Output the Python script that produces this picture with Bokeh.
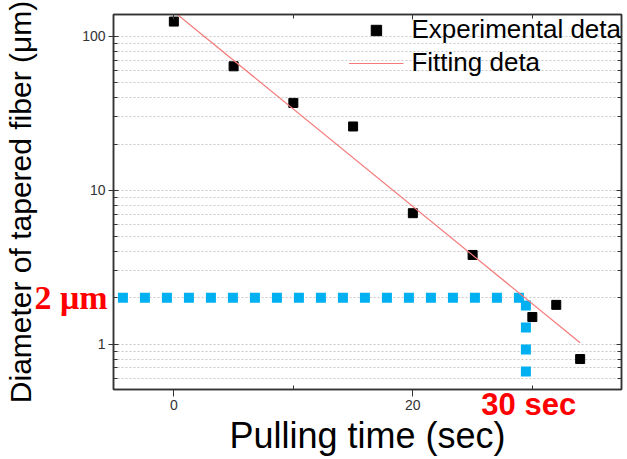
from bokeh.plotting import figure
from bokeh.models import (FixedTicker, LinearAxis, LogAxis,
                          PrintfTickFormatter, CustomJSTickFormatter)
from bokeh.embed import file_html
from bokeh.resources import INLINE

# ---- data ----
time_s = [0, 5, 10, 15, 20, 25, 30, 32, 34]
diameter_um = [125, 64, 37, 26, 7.1, 3.8, 1.5, 1.8, 0.80]

fit_time_s = [0, 34]
fit_diameter_um = [145, 1.02]

# blue guide lines marking 2 um at ~30 sec
guide_h_time = [-4.68, 29.5]
guide_h_diam = [2, 2]
guide_v_time = [29.46, 29.46]
guide_v_diam = [1.92, 0.605]

# callout positions (axis coordinates of the red texts)
callout_diam = [2]
callout_time = [29.7]

x_major_ticks = [0, 20]
x_minor_ticks = [10, 30]
y_major_ticks = [1, 10, 100]
y_minor_ticks = [0.6, 0.7, 0.8, 0.9, 2, 3, 4, 5, 6, 7, 8, 9,
                 20, 30, 40, 50, 60, 70, 80, 90]

FONT = "Liberation Sans"
DARK = "#333333"

p = figure(width=627, height=459, x_range=(-5.05, 37.46), y_range=(0.507, 139),
           y_axis_type="log", output_backend="svg", toolbar_location=None,
           min_border_left=113, min_border_right=6, min_border_top=14,
           min_border_bottom=70, background_fill_color="white",
           border_fill_color="white")

p.outline_line_color = DARK
p.outline_line_width = 1.5

xticker = FixedTicker(ticks=x_major_ticks, minor_ticks=x_minor_ticks)
yticker = FixedTicker(ticks=y_major_ticks, minor_ticks=y_minor_ticks)

# grid
p.xgrid.visible = False
p.ygrid.ticker = yticker
p.ygrid.grid_line_color = "#c8c8c8"
p.ygrid.grid_line_dash = "2 2"
p.ygrid.minor_grid_line_color = "#c8c8c8"
p.ygrid.minor_grid_line_dash = "2 2"

# left axis: ticks and tick labels
ya = p.yaxis[0]
ya.ticker = yticker
ya.formatter = PrintfTickFormatter(format="%d")
ya.major_label_text_font = FONT
ya.major_label_text_font_size = "14px"
ya.major_label_text_color = DARK
ya.major_tick_in = 5
ya.major_tick_out = 5
ya.minor_tick_in = 4
ya.minor_tick_out = 0
ya.major_label_standoff = 3
ya.axis_line_color = DARK
ya.axis_line_width = 1.5
ya.major_tick_line_color = DARK
ya.minor_tick_line_color = DARK

# bottom axis: ticks and tick labels
xa = p.xaxis[0]
xa.ticker = xticker
xa.major_label_text_font = FONT
xa.major_label_text_font_size = "14px"
xa.major_label_text_color = DARK
xa.major_tick_in = 0
xa.major_tick_out = 7
xa.minor_tick_in = 4
xa.minor_tick_out = 0
xa.major_label_standoff = 3
xa.axis_line_color = DARK
xa.axis_line_width = 1.5
xa.major_tick_line_color = DARK
xa.minor_tick_line_color = DARK

# outer left axis: red "2 μm" callout + axis title
ya2 = LogAxis(ticker=FixedTicker(ticks=callout_diam, minor_ticks=[]),
              formatter=CustomJSTickFormatter(code="return '2 μm';"),
              major_tick_in=0, major_tick_out=0, minor_tick_in=0, minor_tick_out=0,
              axis_line_color=None, major_tick_line_color=None,
              minor_tick_line_color=None,
              major_label_text_font="Liberation Serif",
              major_label_text_font_style="bold",
              major_label_text_font_size="34px",
              major_label_text_color="red",
              major_label_standoff=-28,
              axis_label="Diameter of tapered fiber (μm)",
              axis_label_text_font=FONT, axis_label_text_font_style="normal",
              axis_label_text_font_size="30px", axis_label_text_color="black",
              axis_label_standoff=-6)
p.add_layout(ya2, "left")

# outer bottom axis: red "30 sec" callout + axis title
xa2 = LinearAxis(ticker=FixedTicker(ticks=callout_time, minor_ticks=[]),
                 formatter=CustomJSTickFormatter(code="return '30 sec';"),
                 major_tick_in=0, major_tick_out=0, minor_tick_in=0, minor_tick_out=0,
                 axis_line_color=None, major_tick_line_color=None,
                 minor_tick_line_color=None,
                 major_label_text_font=FONT,
                 major_label_text_font_style="bold",
                 major_label_text_font_size="31px",
                 major_label_text_color="red",
                 major_label_standoff=-26,
                 axis_label="Pulling time (sec)",
                 axis_label_text_font=FONT, axis_label_text_font_style="normal",
                 axis_label_text_font_size="36px", axis_label_text_color="black",
                 axis_label_standoff=-10)
p.add_layout(xa2, "below")

# mirrored axes (ticks only, empty labels)
blank = CustomJSTickFormatter(code="return '';")
top = LinearAxis(ticker=xticker, formatter=blank, major_tick_in=5,
                 major_tick_out=0, minor_tick_in=4, minor_tick_out=0,
                 major_label_standoff=0,
                 axis_line_color=DARK, axis_line_width=1.5,
                 major_tick_line_color=DARK, minor_tick_line_color=DARK)
p.add_layout(top, "above")
right = LogAxis(ticker=yticker, formatter=blank, major_tick_in=5,
                major_tick_out=0, minor_tick_in=4, minor_tick_out=0,
                major_label_standoff=0,
                axis_line_color=DARK, axis_line_width=1.5,
                major_tick_line_color=DARK, minor_tick_line_color=DARK)
p.add_layout(right, "right")

# guide lines
p.line(guide_h_time, guide_h_diam, line_color="#00b0f0", line_width=10,
       line_dash="10 12")
p.line(guide_v_time, guide_v_diam, line_color="#00b0f0", line_width=10,
       line_dash="10 12")

# data
p.scatter(time_s, diameter_um, marker="square", size=9, color="black",
          legend_label="Experimental deta")
p.line(fit_time_s, fit_diameter_um, line_color="#f47a7a", line_width=1.2,
       legend_label="Fitting deta")

# legend
lg = p.legend[0]
lg.location = "top_right"
lg.margin = 0
lg.padding = 3
lg.background_fill_alpha = 0
lg.border_line_color = None
lg.label_text_font = FONT
lg.label_text_font_size = "26px"
lg.label_text_color = "black"
lg.glyph_width = 55
lg.glyph_height = 26
lg.label_height = 26
lg.spacing = 2
lg.label_standoff = 8

open("out.html", "w").write(file_html(p, INLINE))
